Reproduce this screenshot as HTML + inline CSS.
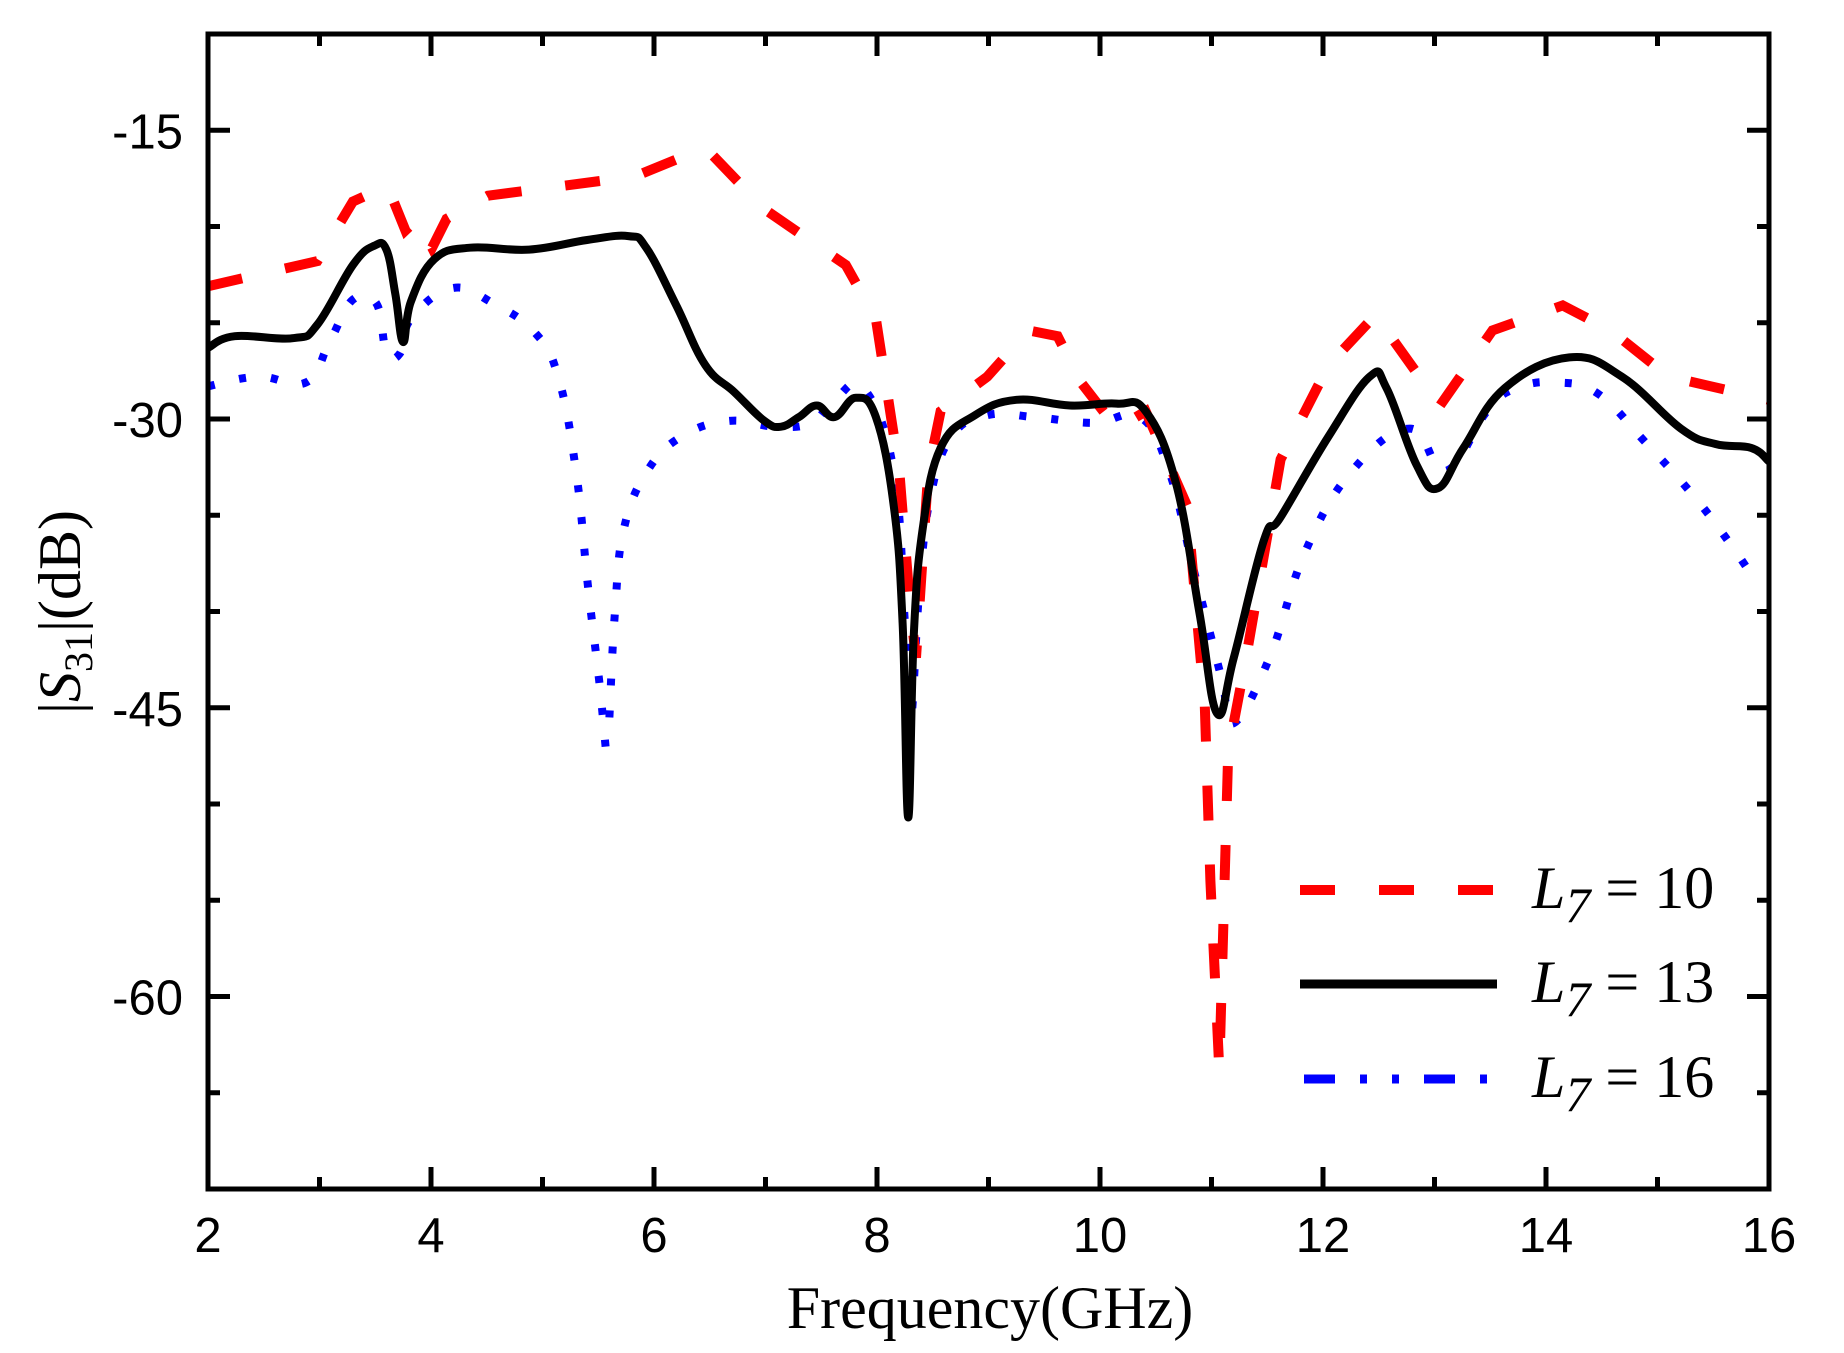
<!DOCTYPE html>
<html><head><meta charset="utf-8"><style>
html,body{margin:0;padding:0;background:#fff;}
svg{display:block;}
</style></head><body>
<svg id="chart" width="1844" height="1353" viewBox="0 0 1844 1353" xmlns="http://www.w3.org/2000/svg">
<rect x="0" y="0" width="1844" height="1353" fill="#fff"/>
<g id="series"></g>
<g id="axes"></g>
<text x="990" y="1328" text-anchor="middle" font-family="Liberation Serif, serif" font-size="60">Frequency(GHz)</text>
<text transform="translate(80,612) rotate(-90)" text-anchor="middle" font-family="Liberation Serif, serif" font-size="60">|<tspan font-style="italic">S</tspan><tspan font-size="40" dy="12">31</tspan><tspan dy="-12">|(dB)</tspan></text>
<g font-family="Liberation Serif, serif" font-size="60">
  <line x1="1300" y1="890" x2="1497" y2="890" stroke="#ff0000" stroke-width="10" stroke-dasharray="35 44"/>
  <text x="1532" y="908"><tspan font-style="italic">L</tspan><tspan font-style="italic" font-size="50" dy="14">7</tspan><tspan dy="-14"> = 10</tspan></text>
  <line x1="1300" y1="984" x2="1497" y2="984" stroke="#000" stroke-width="9"/>
  <text x="1532" y="1002"><tspan font-style="italic">L</tspan><tspan font-style="italic" font-size="50" dy="14">7</tspan><tspan dy="-14"> = 13</tspan></text>
  <line x1="1304" y1="1079" x2="1497" y2="1079" stroke="#0000ff" stroke-width="9" stroke-dasharray="31 25 7 25 7 25"/>
  <text x="1532" y="1097"><tspan font-style="italic">L</tspan><tspan font-style="italic" font-size="50" dy="14">7</tspan><tspan dy="-14"> = 16</tspan></text>
</g>
</svg>
<script>
const xTicks = [2,4,6,8,10,12,14,16];
const yTicks = [-15,-30,-45,-60];
const freqRed = [2,2.98,3.3,3.61,3.77,3.88,4.01,4.14,4.51,5.83,6.46,6.99,7.72,7.99,8.2,8.3,8.35,8.46,8.57,8.99,9.36,9.62,9.83,10.15,10.41,10.78,10.94,10.99,11.07,11.15,11.31,11.62,12.05,12.47,13.05,13.52,14.15,14.58,15.1,16];
const valRed = [-23.1,-21.8,-18.7,-17.9,-20.2,-19.6,-21.1,-19.6,-18.4,-17.4,-15.9,-19.1,-22.0,-24.8,-32.7,-40,-42.4,-32.7,-29.6,-27.8,-25.4,-25.7,-28.1,-30.5,-29.6,-34.5,-44.9,-54.0,-63.8,-47.3,-42.4,-32.1,-27.2,-24.6,-29.3,-25.4,-24.1,-25.4,-27.8,-29.0];
const freqBlack = [2,2.24,2.77,2.98,3.3,3.49,3.6,3.68,3.75,3.82,4.03,4.35,4.88,5.4,5.77,5.93,6.2,6.46,6.72,6.99,7.14,7.3,7.46,7.62,7.81,7.99,8.15,8.23,8.28,8.33,8.41,8.57,8.88,9.25,9.73,10.15,10.41,10.68,10.89,11.05,11.2,11.47,11.62,12.05,12.42,12.57,12.84,13.03,13.26,13.63,14.21,14.68,15.21,15.52,15.84,16];
const valBlack = [-26.3,-25.7,-25.8,-25.1,-22.0,-21.0,-21.2,-23.5,-26.0,-23.9,-21.7,-21.1,-21.2,-20.7,-20.5,-21.1,-24.1,-27.2,-28.6,-30.1,-30.4,-29.9,-29.3,-29.9,-28.9,-29.9,-34.5,-40.6,-50.7,-41.2,-35.7,-31.5,-29.8,-29.0,-29.3,-29.2,-29.6,-33.3,-40.0,-45.3,-42.4,-36.3,-35.1,-30.9,-27.8,-28.4,-32.4,-33.6,-31.5,-28.4,-26.8,-27.8,-30.5,-31.3,-31.5,-32.2];
const freqBlueA = [2,2.45,2.88,3.09,3.3,3.51,3.6,3.72,3.82,4.19,4.56,4.93,5.14,5.3,5.41,5.51,5.57];
const valBlueA = [-28.3,-27.8,-28.1,-26.0,-23.8,-24.0,-26.5,-26.6,-24.8,-23.2,-24.0,-25.5,-27.8,-32.7,-38.8,-43.7,-47.3];
const freqBlueB = [5.6,5.65,5.73,5.94,6.25,6.67,7.09,7.41,7.62,7.88,8.15,8.25,8.3,8.38,8.48,8.67,8.99,9.41,9.94,10.36,10.62,10.83,10.99,11.1,11.2,11.52,11.84,12.26,12.78,13.1,13.47,13.73,14.1,14.47,14.89,15.31,15.63,15.89];
const valBlueB = [-45.5,-40,-35.7,-32.7,-30.9,-30.1,-30.4,-30.2,-29.0,-28.4,-32.7,-40.6,-45.8,-38.8,-34.0,-30.9,-29.8,-29.9,-30.2,-29.9,-32.7,-37.6,-41.2,-43.7,-45.8,-42.4,-36.9,-32.7,-30.5,-32.7,-29.6,-28.4,-28.1,-28.7,-31.2,-33.9,-36.3,-38.5];

const X0=208, X1=1769, Y0=34, Y1=1189, XMIN=2, XMAX=16, YMIN=-70, YMAX=-10;
function sx(v){return X0+(v-XMIN)/(XMAX-XMIN)*(X1-X0);}
function sy(v){return Y1-(v-YMIN)/(YMAX-YMIN)*(Y1-Y0);}
const NS='http://www.w3.org/2000/svg';
const series=document.getElementById('series');
const axes=document.getElementById('axes');
function mk(tag,attrs,parent){const e=document.createElementNS(NS,tag);for(const k in attrs)e.setAttribute(k,attrs[k]);parent.appendChild(e);return e;}
function pathD(xs,ys){return xs.map((x,i)=>(i?'L':'M')+sx(x).toFixed(1)+' '+sy(ys[i]).toFixed(1)).join(' ');}
function smoothD(xs,ys){
  const P=xs.map((x,i)=>[sx(x),sy(ys[i])]);
  let d='M'+P[0][0].toFixed(1)+' '+P[0][1].toFixed(1);
  for(let i=0;i<P.length-1;i++){
    const p0=P[Math.max(0,i-1)],p1=P[i],p2=P[i+1],p3=P[Math.min(P.length-1,i+2)];
    const t=0.2;
    const c1=[p1[0]+(p2[0]-p0[0])*t,p1[1]+(p2[1]-p0[1])*t];
    const c2=[p2[0]-(p3[0]-p1[0])*t,p2[1]-(p3[1]-p1[1])*t];
    d+=' C'+c1[0].toFixed(1)+' '+c1[1].toFixed(1)+' '+c2[0].toFixed(1)+' '+c2[1].toFixed(1)+' '+p2[0].toFixed(1)+' '+p2[1].toFixed(1);
  }
  return d;
}

let p;
p=mk('path',{d:smoothD(freqBlueA,valBlueA),fill:'none',stroke:'#0000ff','stroke-width':8,'stroke-dasharray':'7 25'},series);


p=mk('path',{d:smoothD(freqBlueB,valBlueB),fill:'none',stroke:'#0000ff','stroke-width':8,'stroke-dasharray':'7 25'},series);


p=mk('path',{d:pathD(freqRed,valRed),fill:'none',stroke:'#ff0000','stroke-width':10,'stroke-dasharray':'35 44'},series);


p=mk('path',{d:smoothD(freqBlack,valBlack),fill:'none',stroke:'#000','stroke-width':8,'stroke-linejoin':'round'},series);



let r=mk('rect',{x:X0,y:Y0,width:X1-X0,height:Y1-Y0,fill:'none',stroke:'#000','stroke-width':5},axes);



for(let v=3;v<=15;v++){
  const major=(v%2===0);const L=major?22:12;const x=sx(v);
  let t=mk('line',{x1:x,y1:Y1,x2:x,y2:Y1-L,stroke:'#000','stroke-width':5},axes);
  
  
  t=mk('line',{x1:x,y1:Y0,x2:x,y2:Y0+L,stroke:'#000','stroke-width':5},axes);
  
  
}
xTicks.forEach(v=>{
  const t=mk('text',{x:sx(v),y:1252,'text-anchor':'middle','font-family':'Liberation Sans, sans-serif','font-size':49},axes);
  t.textContent=v;
  
  
});
for(let v=-65;v<=-15;v+=5){
  const major=(v%15===0);const L=major?22:12;const y=sy(v);
  let t=mk('line',{x1:X0,y1:y,x2:X0+L,y2:y,stroke:'#000','stroke-width':5},axes);
  
  
  t=mk('line',{x1:X1,y1:y,x2:X1-L,y2:y,stroke:'#000','stroke-width':5},axes);
  
  
}
yTicks.forEach(v=>{
  const t=mk('text',{x:183,y:sy(v)+18,'text-anchor':'end','font-family':'Liberation Sans, sans-serif','font-size':49},axes);
  t.textContent=v;
  
  
});
</script>
</body></html>
